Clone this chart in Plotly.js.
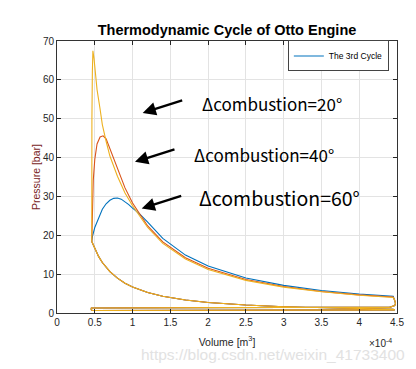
<!DOCTYPE html>
<html>
<head>
<meta charset="utf-8">
<script src="https://cdn.plot.ly/plotly-3.0.1.min.js"></script>
<style>html,body{margin:0;padding:0;background:#fff;}#chart{width:416px;height:369px;}</style>
</head>
<body>
<div id="chart"></div>
<script>
// Volume in units of 1e-4 m^3, pressure in bar
// Shared gas-exchange and compression path
const blowdownV = [4.47, 4.48, 4.47, 4.43, 4.40];
const blowdownP = [3.3, 2.5, 1.9, 1.55, 1.45];
const exhaustV = [3.0, 1.5, 0.47];
const exhaustP = [1.45, 1.45, 1.45];
const loopV = [0.455, 0.452, 0.455, 0.47];
const loopP = [1.3, 1.05, 0.8, 0.65];
const intakeV = [1.5, 3.0, 4.45, 4.47];
const intakeP = [0.65, 0.65, 0.65, 0.8];
const compV = [4.45, 4.0, 3.5, 3.0, 2.5, 2.0, 1.7, 1.4, 1.2, 1.0, 0.9, 0.8, 0.7, 0.6, 0.55, 0.5, 0.46];
const compP = [0.96, 1.11, 1.31, 1.61, 2.04, 2.72, 3.36, 4.33, 5.28, 6.7, 7.68, 8.96, 10.66, 13.0, 14.57, 16.5, 18.4];

// Combustion + expansion, delta combustion = 60 deg (blue)
const exp60V = [0.46, 0.47, 0.5, 0.55, 0.6, 0.65, 0.7, 0.75, 0.8, 0.85, 0.9, 0.95, 1.0, 1.1, 1.2, 1.4, 1.7, 2.0, 2.5, 3.0, 3.5, 4.0, 4.45];
const exp60P = [18.4, 19.8, 22.0, 24.6, 26.7, 28.1, 29.0, 29.5, 29.6, 29.3, 28.7, 27.9, 27.0, 25.4, 23.4, 19.2, 14.9, 12.1, 9.0, 7.1, 5.8, 4.9, 4.3];
// delta combustion = 40 deg (orange)
const exp40V = [0.46, 0.465, 0.47, 0.48, 0.5, 0.53, 0.57, 0.61, 0.65, 0.7, 0.8, 0.9, 1.0, 1.1, 1.2, 1.4, 1.7, 2.0, 2.5, 3.0, 3.5, 4.0, 4.45];
const exp40P = [18.4, 21.4, 26.0, 34.2, 39.5, 43.5, 45.3, 45.6, 44.8, 42.3, 37.0, 32.2, 28.3, 25.2, 22.4, 18.3, 14.2, 11.5, 8.6, 6.8, 5.55, 4.67, 4.1];
// delta combustion = 20 deg (yellow)
const exp20V = [0.46, 0.458, 0.462, 0.468, 0.475, 0.49, 0.51, 0.53, 0.57, 0.6, 0.65, 0.7, 0.8, 0.9, 1.0, 1.1, 1.2, 1.4, 1.7, 2.0, 2.5, 3.0, 3.5, 4.0, 4.45];
const exp20P = [18.4, 30.0, 50.0, 62.0, 67.5, 65.5, 61.0, 57.5, 52.5, 48.5, 44.2, 40.4, 35.2, 30.9, 27.6, 24.7, 22.0, 17.9, 13.9, 11.2, 8.4, 6.65, 5.45, 4.57, 4.0];

const legendName = 'The 3rd Cycle';
const cycleColors = ['#0072BD', '#D95319', '#EDB120'];
const xTicks = [0, 0.5, 1, 1.5, 2, 2.5, 3, 3.5, 4, 4.5];
const xTickText = ['0', '0.5', '1', '1.5', '2', '2.5', '3', '3.5', '4', '4.5'];
const yTicks = [0, 10, 20, 30, 40, 50, 60, 70];
const labels = ['\u0394combustion=20\u00b0', '\u0394combustion=40\u00b0', '\u0394combustion=60\u00b0'];
const arrowHeadV = [1.134, 1.032, 1.121];
const arrowHeadP = [51.5, 38.9, 26.9];
const labelV = [2.84, 2.74, 2.94];
const labelP = [54.0, 40.8, 29.6];

function cycle(ev, ep) {
  return {
    x: ev.concat(blowdownV, exhaustV, loopV, intakeV, compV),
    y: ep.concat(blowdownP, exhaustP, loopP, intakeP, compP)
  };
}
const expV = [exp60V, exp40V, exp20V];
const expP = [exp60P, exp40P, exp20P];
const traces = expV.map((ev, i) => {
  const c = cycle(ev, expP[i]);
  return {
    x: c.x, y: c.y, type: 'scatter', mode: 'lines',
    line: {color: cycleColors[i], width: 1.1},
    name: legendName, showlegend: i === 0, hoverinfo: 'skip'
  };
});

const font = 'Liberation Sans, Arial, sans-serif';
const annotations = [];
for (let i = 0; i < 3; i++) {
  annotations.push({
    x: arrowHeadV[i], y: arrowHeadP[i], xref: 'x', yref: 'y',
    ax: 41, ay: -13, axref: 'pixel', ayref: 'pixel',
    text: '', showarrow: true, arrowhead: 2, arrowsize: 1.1, arrowwidth: 2.4, arrowcolor: '#000'
  });
  annotations.push({
    x: labelV[i], y: labelP[i], xref: 'x', yref: 'y', showarrow: false,
    text: labels[i], font: {family: 'Noto Sans CJK SC, sans-serif', size: i === 2 ? 19.5 : 17, color: '#000'}
  });
}
annotations.push({
  x: 1, y: 0, xref: 'paper', yref: 'paper', xanchor: 'right', yanchor: 'top', yshift: -22, xshift: -3,
  text: '\u00d710<sup>-4</sup>', showarrow: false, font: {family: font, size: 10, color: '#262626'}
});
annotations.push({
  xref: 'paper', yref: 'paper', showarrow: false,
  text: 'https://blog.csdn.net/weixin_41733400', xanchor: 'right', yanchor: 'middle',
  x: 1.03, y: -0.152, font: {family: font, size: 15.5, color: '#e2e2e2'}
});

const layout = {
  width: 416, height: 369,
  margin: {l: 57, r: 19, t: 41, b: 56},
  paper_bgcolor: '#fff', plot_bgcolor: '#fff',
  font: {family: font, size: 10, color: '#262626'},
  title: {text: '<b>Thermodynamic Cycle of Otto Engine</b>', font: {family: font, size: 14.5, color: '#000'},
          x: 0.5, xref: 'paper', y: 1 - 30 / 369, yref: 'container', yanchor: 'middle'},
  xaxis: {range: [0, 4.5], tickvals: xTicks, ticktext: xTickText, ticks: 'inside', ticklen: 4,
          tickcolor: '#262626', mirror: 'ticks', showline: true, linecolor: '#333', linewidth: 1,
          showgrid: true, gridcolor: '#e3e3e3', zeroline: false, fixedrange: true,
          title: {text: 'Volume [m<sup>3</sup>]', font: {family: font, size: 10.5, color: '#262626'}, standoff: 11}},
  yaxis: {range: [0, 70], tickvals: yTicks, ticks: 'inside', ticklen: 4,
          tickcolor: '#262626', mirror: 'ticks', showline: true, linecolor: '#333', linewidth: 1,
          showgrid: true, gridcolor: '#e3e3e3', zeroline: false, fixedrange: true,
          title: {text: 'Pressure [bar]', font: {family: font, size: 10.5, color: '#7a2424'}, standoff: 0}},
  legend: {x: 0.976, y: 0.945, xanchor: 'right', yanchor: 'middle', bgcolor: '#fff',
           bordercolor: '#444', borderwidth: 1, font: {family: font, size: 8.5, color: '#000'},
           itemwidth: 30, tracegroupgap: 0},
  annotations: annotations,
  showlegend: true
};
Plotly.newPlot('chart', traces, layout, {displayModeBar: false, staticPlot: true});
</script>
</body>
</html>
